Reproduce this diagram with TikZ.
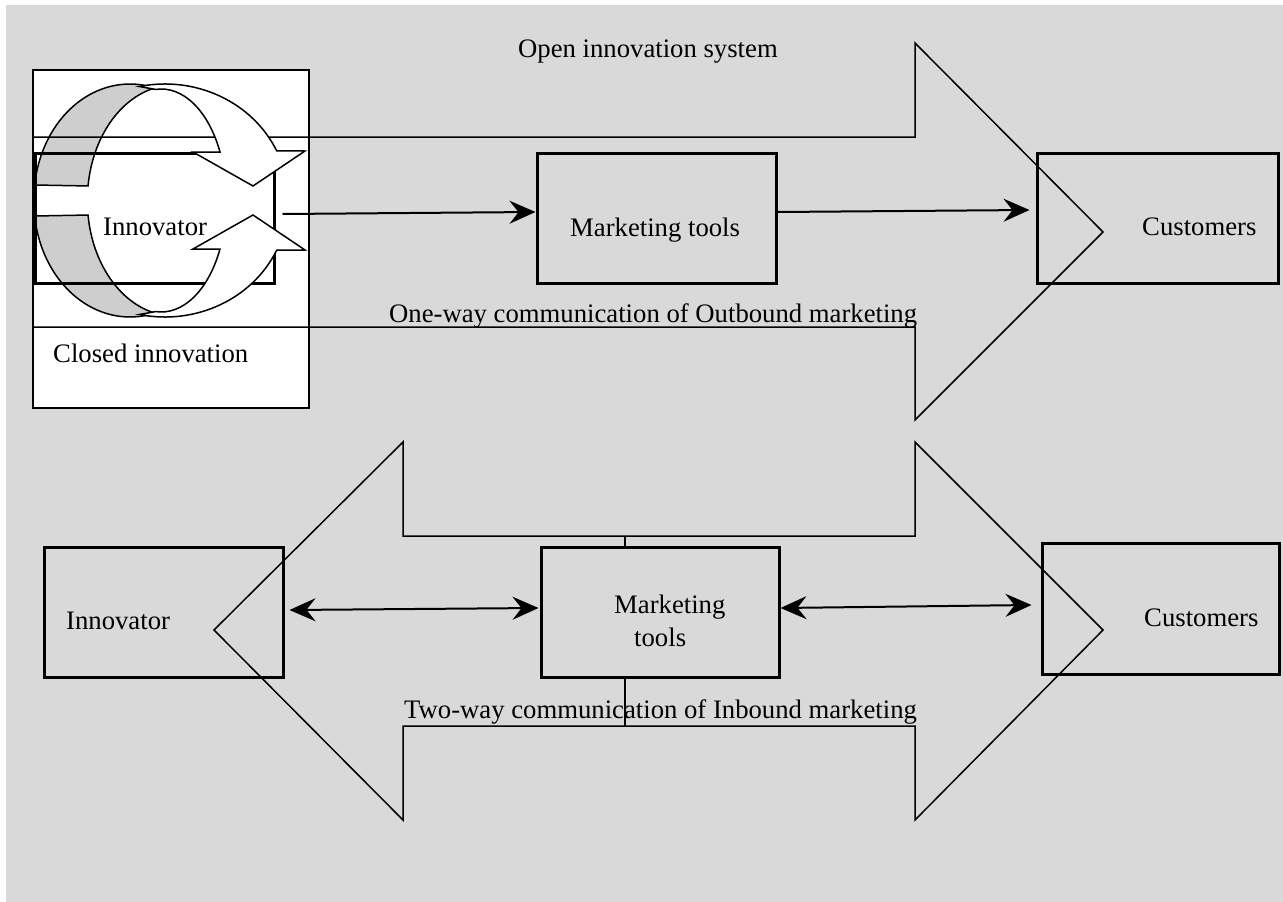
\documentclass[tikz,border=0pt]{standalone}
\usepackage{fontspec}
\setmainfont{Liberation Serif}
\usetikzlibrary{arrows.meta,calc}
\definecolor{bg}{RGB}{217,217,217}
\definecolor{crescent}{RGB}{206,206,206}
\begin{document}
\begin{tikzpicture}[x=1pt,y=-1pt,
  lbl/.style={inner sep=0pt, anchor=base west, font=\fontsize{26.7}{32}\selectfont},
  box/.style={draw, line width=3pt, inner sep=0pt},
  bigarrow/.style={draw, line width=1.5pt, line join=miter},
  ring/.style={draw, line width=1.5pt, line join=miter},
  conn/.style={line width=2pt, -{Stealth[length=26pt, width=23pt, inset=9pt]}},
  conn2/.style={line width=2pt, {Stealth[length=26pt, width=23pt, inset=9pt]}-{Stealth[length=26pt, width=23pt, inset=9pt]}}]
\useasboundingbox (0,0) rectangle (1283,902);
\fill[bg] (6,5) rectangle (1283,902);

% closed innovation box
\node[draw, fill=white, line width=1.5pt, inner sep=0pt, minimum width=276pt, minimum height=338pt] (closed) at (171,239) {};

% gray backs of the circular arrows
\filldraw[ring, fill=crescent] (34.7,185) arc[start angle=187, end angle=285, x radius=96, y radius=115]
  arc[start angle=257, end angle=187, x radius=87, y radius=115] -- cycle;
\filldraw[ring, fill=crescent] (34.7,216) arc[start angle=173, end angle=75, x radius=96, y radius=115]
  arc[start angle=103, end angle=173, x radius=87, y radius=115] -- cycle;

% inner innovator rectangle
\node[box, minimum width=239pt, minimum height=130pt] (inr) at (154.5,218) {};

% top open innovation arrow
\draw[bigarrow] (33,137) -- (915,137) -- (915,43) -- (1103,232) -- (915,420) -- (915,327) -- (33,327);

% white fronts of the circular arrows
\filldraw[ring, fill=white] (139.4,86.5) arc[start angle=258, end angle=335.3, x radius=123, y radius=115]
  -- (305,151) -- (253,186) -- (193,152) -- (220,152)
  arc[start angle=334.7, end angle=265, x radius=65, y radius=110] -- cycle;
\filldraw[ring, fill=white] (139.4,314.5) arc[start angle=102, end angle=24.7, x radius=123, y radius=115]
  -- (305,250) -- (253,215) -- (193,249) -- (220,249)
  arc[start angle=25.3, end angle=95, x radius=65, y radius=110] -- cycle;

\node[lbl] (t_inn1) at (103,235) {Innovator};
\node[lbl] (t_closed) at (53,362) {Closed innovation};
\node[lbl] (t_open) at (518,57) {Open innovation system};

% top row boxes
\node[box, minimum width=239pt, minimum height=130pt] (mt1) at (656.5,218) {};
\node[box, minimum width=241pt, minimum height=130pt] (cu1) at (1157.5,218) {};
\node[lbl] (t_mt1) at (570,236) {Marketing tools};
\node[lbl] (t_cu1) at (1142,235) {Customers};
\node[lbl] (t_one) at (389,322) {One-way communication of Outbound marketing};

\draw[conn] ([shift={(7,-4)}]inr.east) -- ([shift={(0,-6)}]mt1.west);
\draw[conn] ([shift={(0,-6)}]mt1.east) -- ([shift={(-6,-8)}]cu1.west);

% bottom double arrow
\draw[bigarrow] (625,536) -- (403,536) -- (403,442) -- (214,630) -- (403,820) -- (403,726) -- (625,726);
\draw[bigarrow] (625,536) -- (915,536) -- (915,442) -- (1103,630) -- (915,820) -- (915,726) -- (625,726);
\node[lbl] (t_two) at (404,718) {Two-way communication of Inbound marketing};
\draw[line width=1.5pt] (625,536) -- (625,726);

% bottom row boxes
\node[box, minimum width=239pt, minimum height=130pt] (in2) at (163.5,612) {};
\node[box, fill=bg, minimum width=238pt, minimum height=130pt] (mt2) at (660,612) {};
\node[box, minimum width=237pt, minimum height=131pt] (cu2) at (1160.5,608.5) {};
\node[lbl] (t_in2) at (66,629) {Innovator};
\node[lbl] (t_mt2a) at (614,613) {Marketing};
\node[lbl] (t_mt2b) at (634,646) {tools};
\node[lbl] (t_cu2) at (1144,626) {Customers};

\draw[conn2] ([shift={(5,-2)}]in2.east) -- ([shift={(-1,-4)}]mt2.west);
\draw[conn2] ([shift={(0,-4)}]mt2.east) -- ([shift={(-9,-3.5)}]cu2.west);
\end{tikzpicture}
\end{document}
